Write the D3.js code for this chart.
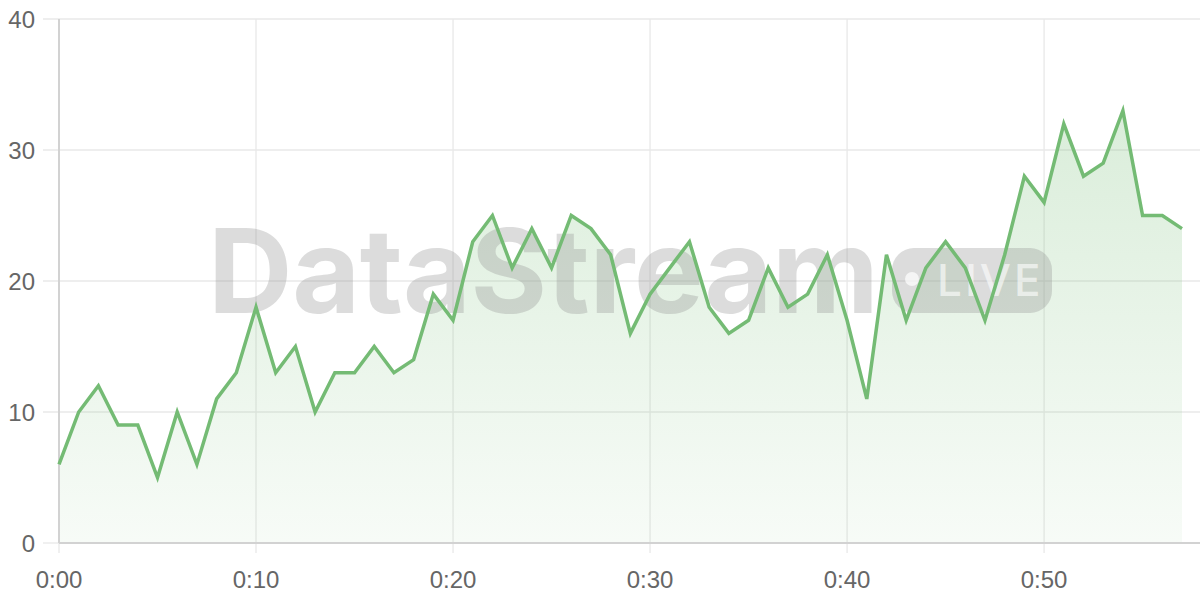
<!DOCTYPE html>
<html>
<head>
<meta charset="utf-8">
<script src="https://cdn.jsdelivr.net/npm/d3@7"></script>
<style>
  html, body { margin: 0; padding: 0; background: #fff; }
  svg { display: block; }
</style>
</head>
<body>
<svg id="chart" width="1200" height="600"></svg>
<script>
const minutes = d3.range(0, 58);
const values = [6, 10, 12, 9, 9, 5, 10, 6, 11, 13,
                18, 13, 15, 10, 13, 13, 15, 13, 14, 19,
                17, 23, 25, 21, 24, 21, 25, 24, 22, 16,
                19, 21, 23, 18, 16, 17, 21, 18, 19, 22,
                17, 11, 22, 17, 21, 23, 21, 17, 22, 28,
                26, 32, 28, 29, 33, 25, 25, 24];
const xTicks = [0, 10, 20, 30, 40, 50];
const xTickLabels = ["0:00", "0:10", "0:20", "0:30", "0:40", "0:50"];
const yTicks = [0, 10, 20, 30, 40];

(function () {
const data = minutes.map((m, i) => ({ m, v: values[i] }));

const svg = d3.select("#chart");
const pL = 59, pR = 1182, pT = 19, pB = 543;
const x = d3.scaleLinear().domain([0, 57]).range([pL, pR]);
const y = d3.scaleLinear().domain([0, 40]).range([pB, pT]);

const font = "'Liberation Sans', Arial, sans-serif";

const defs = svg.append("defs");
const grad = defs.append("linearGradient").attr("id", "areaGrad")
  .attr("gradientUnits", "userSpaceOnUse")
  .attr("x1", 0).attr("x2", 0).attr("y1", y(33)).attr("y2", pB);
grad.append("stop").attr("offset", "0%").attr("stop-color", "#7cc07c").attr("stop-opacity", 0.28);
grad.append("stop").attr("offset", "100%").attr("stop-color", "#7cc07c").attr("stop-opacity", 0.06);

// horizontal grid
svg.append("g").selectAll("line").data(yTicks.slice(1)).join("line")
  .attr("x1", 43).attr("x2", 1200)
  .attr("y1", d => y(d)).attr("y2", d => y(d))
  .attr("stroke", "#e8e8e8").attr("stroke-width", 1.3);
svg.append("line").attr("x1", 43).attr("x2", pL).attr("y1", y(0)).attr("y2", y(0))
  .attr("stroke", "#e8e8e8").attr("stroke-width", 1.3);

// vertical grid
svg.append("g").selectAll("line").data(xTicks.slice(1)).join("line")
  .attr("x1", d => x(d)).attr("x2", d => x(d))
  .attr("y1", pT).attr("y2", 553)
  .attr("stroke", "#e8e8e8").attr("stroke-width", 1.3);
svg.append("line").attr("x1", pL).attr("x2", pL).attr("y1", pB).attr("y2", 553)
  .attr("stroke", "#e8e8e8").attr("stroke-width", 1.3);

// area
const area = d3.area().x(d => x(d.m)).y0(y(0)).y1(d => y(d.v));
svg.append("path").datum(data).attr("d", area).attr("fill", "url(#areaGrad)");

// axis lines
svg.append("line").attr("x1", pL).attr("x2", pL).attr("y1", pT).attr("y2", pB)
  .attr("stroke", "#d2d2d2").attr("stroke-width", 2);
svg.append("line").attr("x1", pL).attr("x2", 1200).attr("y1", pB).attr("y2", pB)
  .attr("stroke", "#d2d2d2").attr("stroke-width", 2);

// watermark
const wm = svg.append("g");
wm.append("text").attr("x", 208).attr("y", 313)
  .attr("font-family", "Inter, 'Noto Sans', sans-serif").attr("font-weight", 700)
  .attr("font-size", 117).attr("letter-spacing", -0.3)
  .attr("fill", "#8c8c8c").attr("fill-opacity", 0.3)
  .text("DataStream");
wm.append("rect").attr("x", 892).attr("y", 248).attr("width", 160).attr("height", 65).attr("rx", 22)
  .attr("fill", "#8c8c8c").attr("fill-opacity", 0.3);
wm.append("circle").attr("cx", 912).attr("cy", 279).attr("r", 7)
  .attr("fill", "#ffffff").attr("fill-opacity", 0.7);
wm.append("text").attr("x", 937).attr("y", 296)
  .attr("font-family", "Inter, 'Noto Sans', sans-serif").attr("font-weight", 500)
  .attr("font-size", 44).attr("letter-spacing", 3)
  .attr("fill", "#ffffff").attr("fill-opacity", 0.6)
  .text("LIVE");

// line
const line = d3.line().x(d => x(d.m)).y(d => y(d.v));
svg.append("path").datum(data).attr("d", line)
  .attr("fill", "none").attr("stroke", "#74bb74").attr("stroke-width", 3.5)
  .attr("stroke-linejoin", "miter");

// y labels
svg.append("g").selectAll("text").data(yTicks).join("text")
  .attr("x", 35).attr("y", d => y(d) + 8.5)
  .attr("text-anchor", "end")
  .attr("font-family", font).attr("font-size", 24).attr("fill", "#666")
  .text(d => d);

// x labels
svg.append("g").selectAll("text").data(xTicks).join("text")
  .attr("x", d => x(d)).attr("y", 588)
  .attr("text-anchor", "middle")
  .attr("font-family", font).attr("font-size", 24).attr("fill", "#666")
  .text((d, i) => xTickLabels[i]);
})();
</script>
</body>
</html>
